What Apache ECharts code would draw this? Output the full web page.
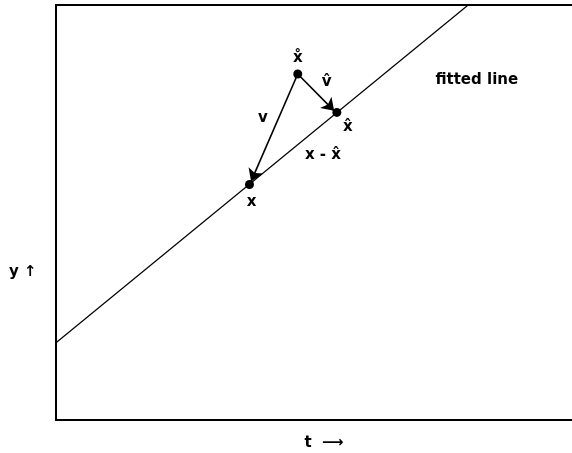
<!DOCTYPE html>
<html>
<head>
    <meta charset="utf-8" />
    <title>fitted line</title>
    <script src="https://cdn.jsdelivr.net/npm/echarts@6/dist/echarts.min.js"></script>
    <style>
        html, body { margin: 0; padding: 0; background: #fff; overflow: hidden; }
        #chart { width: 592px; height: 453px; }
    </style>
</head>
<body>
    <div id="chart"></div>
    <script>
        // 数据
        // ------------------------------------------------------
        // fitted line (两端)
        var fittedLine = [[0, 1.49], [7.69, 8.0]];
        // 点: 名称, t, y
        var pointNames = ['x\u030A', 'x\u0302', 'x'];
        var pointT = [4.51, 5.24, 3.61];
        var pointY = [6.67, 5.93, 4.54];
        // 箭头 (起点 -> 终点)
        var arrowV = [[4.51, 6.67], [3.64, 4.60]];
        var arrowVhat = [[4.51, 6.67], [5.19, 5.96]];
        // 注释文字
        var noteTexts = ['v', 'v\u0302', 'x - x\u0302', 'fitted line'];
        var noteT = [3.86, 5.05, 4.98, 7.85];
        var noteY = [5.82, 6.52, 5.11, 6.55];

        var font = 'DejaVu Sans';

        var points = pointNames.map(function (n, i) {
            return { name: n, value: [pointT[i], pointY[i]] };
        });
        var notes = noteTexts.map(function (n, i) {
            return { name: n, value: [noteT[i], noteY[i]] };
        });
        // 点标签的位置
        var labelPos = [
            { position: 'top', distance: 4 },
            { position: 'bottom', distance: 3, offset: [11, 0] },
            { position: 'bottom', distance: 6, offset: [2, 0] }
        ];
        points.forEach(function (p, i) { p.label = labelPos[i]; });

        var frameLine = { show: true, onZero: false, lineStyle: { color: '#000', width: 2 } };
        var hidden = {
            axisTick: { show: false }, axisLabel: { show: false }, splitLine: { show: false }
        };

        // 图表比窗口宽, 右边框在窗口外
        var chart = echarts.init(document.getElementById('chart'), null, { renderer: 'canvas' });
        chart.setOption({
            animation: false,
            grid: {
                left: 56, top: 5, right: 0, bottom: 33,
                containLabel: false,
                outerBoundsMode: 'none'
            },
            xAxis: [Object.assign({
                type: 'value', min: 0, max: 10, position: 'bottom',
                axisLine: frameLine,
                name: 't  \u27F6', nameLocation: 'middle', nameGap: 16,
                nameTextStyle: { fontFamily: font, fontSize: 15, fontWeight: 'bold', color: '#000' }
            }, hidden), Object.assign({
                type: 'value', min: 0, max: 10, position: 'top',
                axisLine: frameLine
            }, hidden)],
            yAxis: Object.assign({
                type: 'value', min: 0, max: 8, position: 'left',
                axisLine: frameLine
            }, hidden),
            graphic: [{
                type: 'text', left: 9, top: 265,
                style: { text: 'y \u2191', font: 'bold 15px "DejaVu Sans"', fill: '#000' }
            }],
            series: [{
                type: 'line',
                data: fittedLine,
                symbol: 'none',
                lineStyle: { color: '#000', width: 1.2 },
                silent: true
            }, {
                type: 'lines',
                coordinateSystem: 'cartesian2d',
                symbol: ['none', 'arrow'],
                symbolSize: [7, 12],
                lineStyle: { color: '#000', width: 1.6, opacity: 1 },
                data: [{ coords: arrowV }, { coords: arrowVhat }],
                silent: true
            }, {
                type: 'scatter',
                data: points,
                symbolSize: 9,
                itemStyle: { color: '#000', opacity: 1 },
                label: {
                    show: true, formatter: '{b}', color: '#000',
                    fontFamily: font, fontSize: 15, fontWeight: 'bold'
                },
                silent: true
            }, {
                type: 'scatter',
                data: notes,
                symbolSize: 0,
                itemStyle: { color: '#000', opacity: 1 },
                label: {
                    show: true, position: 'inside', formatter: '{b}', color: '#000',
                    fontFamily: font, fontSize: 15, fontWeight: 'bold'
                },
                silent: true
            }]
        });
    </script>
</body>
</html>
